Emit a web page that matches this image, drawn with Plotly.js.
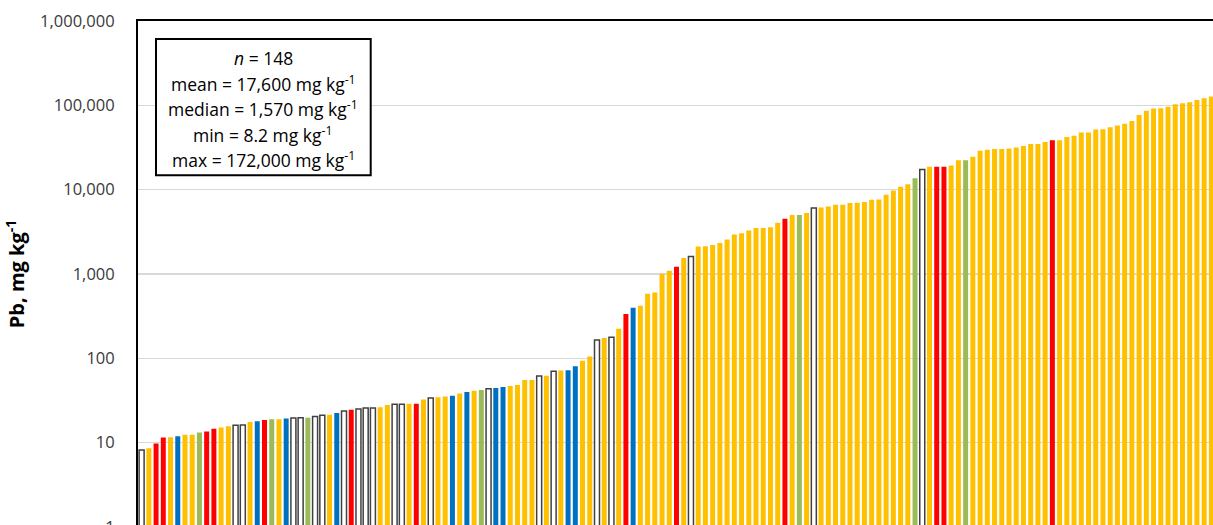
<!DOCTYPE html>
<html>
<head>
<meta charset="utf-8">
<script src="https://cdn.plot.ly/plotly-3.0.1.min.js"></script>
<style>
html,body{margin:0;padding:0;overflow:hidden;background:#fff;}
#chart{width:1220px;height:600px;}
</style>
</head>
<body>
<div id="chart"></div>
<script>
// Pb concentration (mg/kg) of each sample, sorted ascending (visible bars)
const pbValues = [
  8.2, 8.6, 9.8, 11.5, 11.6, 11.9, 12.4, 12.4, 13.2, 13.6,
  14.6, 15.1, 15.7, 16.1, 16.2, 17.6, 17.9, 18.6, 18.9, 18.9,
  19.3, 19.6, 19.8, 19.8, 20.4, 21.2, 21.4, 22.5, 23.8, 24.6,
  25.1, 25.7, 25.8, 26.3, 28.0, 28.5, 28.5, 29.0, 29.0, 32.6,
  33.9, 34.5, 35.2, 36.1, 38.4, 39.9, 41.4, 42.2, 43.6, 44.6,
  45.8, 47.0, 48.4, 55.4, 55.4, 61.7, 62.3, 70.5, 71.6,
  72, 80.5, 93.7, 105, 165, 174, 178, 225, 335, 398,
  420, 583, 605, 1005, 1090, 1215, 1550, 1610, 2120, 2140,
  2200, 2330, 2560, 2950, 3050, 3270, 3500, 3520, 3590, 4050,
  4530, 5000, 5000, 5290, 6060, 6160, 6330, 6630, 6630, 6950,
  6980, 7140, 7610, 7660, 8720, 9800, 10850, 11560, 13620, 17400,
  18750, 18750, 18750, 19300, 22400, 22400, 24500,
  29000, 29800, 30300, 30300, 30800, 31700, 33000, 34700, 34800, 36800,
  38500, 38500, 42100, 43700, 47500, 47600, 51800, 52000, 55000, 57800,
  60400, 65000, 77000, 86200, 92000, 92100, 96500, 103000, 105500, 108500,
  116000, 121500, 127000
];

// Sample group of each bar: W = white, Y = yellow, R = red, B = blue, G = green
const sampleGroups = (
  "WYRRYBYYGRRYYWWYBRGYBWWGWWYBWR" +
  "WWWYYWWYRYWYYBYBYGWBBYYYYWYWY" +
  "BBYYWYWYRBYYYYYRYWYYYYYYYYYYYY" +
  "RYGYWYYYYYYYYYYYYYGWYRRYYGY" +
  "YYYYYYYYYYRYYYYYYYYYYYYYYYYYYYYYY"
).split("");

const yTickValues = [1, 10, 100, 1000, 10000, 100000, 1000000];
const yTickLabels = ["1", "10", "100", "1,000", "10,000", "100,000", "1,000,000"];

const statLines = [
  "<i>n</i> = 148",
  "mean = 17,600 mg kg<sup>-1</sup>",
  "median = 1,570 mg kg<sup>-1</sup>",
  "min = 8.2 mg kg<sup>-1</sup>",
  "max = 172,000 mg kg<sup>-1</sup>"
];

const palette = { W: "#FFFFFF", Y: "#FFC000", R: "#FF0000", B: "#0070C0", G: "#9BBB59" };

const xs = pbValues.map((_, i) => i);
const fillColors = sampleGroups.map(g => palette[g]);
const lineColors = sampleGroups.map(g => g === "W" ? "#404040" : "rgba(0,0,0,0)");
const lineWidths = sampleGroups.map(g => g === "W" ? 1.5 : 0);

const FONT = "Open Sans, Lato, sans-serif";
const L = 138, T = 20.7, PW = 1077, PH = 505.8;
const W = 1220, H = 600;

const trace = {
  type: "bar",
  x: xs,
  y: pbValues,
  marker: { color: fillColors, line: { color: lineColors, width: lineWidths } },
  hoverinfo: "y"
};

const annotations = statLines.map((txt, i) => ({
  xref: "paper", yref: "paper",
  x: (263.4 - L) / PW,
  y: (T + PH - [57.3, 83, 108.3, 134, 159.5][i]) / PH,
  xanchor: "center", yanchor: "middle",
  text: txt, showarrow: false,
  font: { family: FONT, size: 17.5, color: "#000" }
}));

const layout = {
  width: W, height: H,
  margin: { l: L, t: T, r: W - L - PW, b: H - T - PH, pad: 0 },
  paper_bgcolor: "#fff", plot_bgcolor: "#fff",
  showlegend: false,
  bargap: 0.31,
  xaxis: {
    range: [-0.5, pbValues.length - 0.5],
    showticklabels: false, ticks: "", showgrid: false, zeroline: false,
    showline: true, mirror: true, linecolor: "#000", linewidth: 2
  },
  yaxis: {
    type: "log", range: [0, 6],
    tickvals: yTickValues, ticktext: yTickLabels,
    tickfont: { family: FONT, size: 16.5, color: "#3a3a3a" },
    ticks: "", ticklabelstandoff: 18,
    showgrid: true, gridcolor: "#D9D9D9", gridwidth: 1.3,
    zeroline: false,
    showline: true, mirror: true, linecolor: "#000", linewidth: 2,
    title: { text: "<b>Pb, mg kg<sup>-1</sup></b>", font: { family: FONT, size: 20, color: "#000" }, standoff: 10 }
  },
  shapes: [{
    type: "rect", xref: "paper", yref: "paper",
    x0: (156 - L) / PW, x1: (370.7 - L) / PW,
    y0: (T + PH - 175) / PH, y1: (T + PH - 38.7) / PH,
    line: { color: "#000", width: 2 }, fillcolor: "#fff", layer: "above"
  }],
  annotations: annotations
};

Plotly.newPlot("chart", [trace], layout, { displayModeBar: false, staticPlot: true });
</script>
</body>
</html>
